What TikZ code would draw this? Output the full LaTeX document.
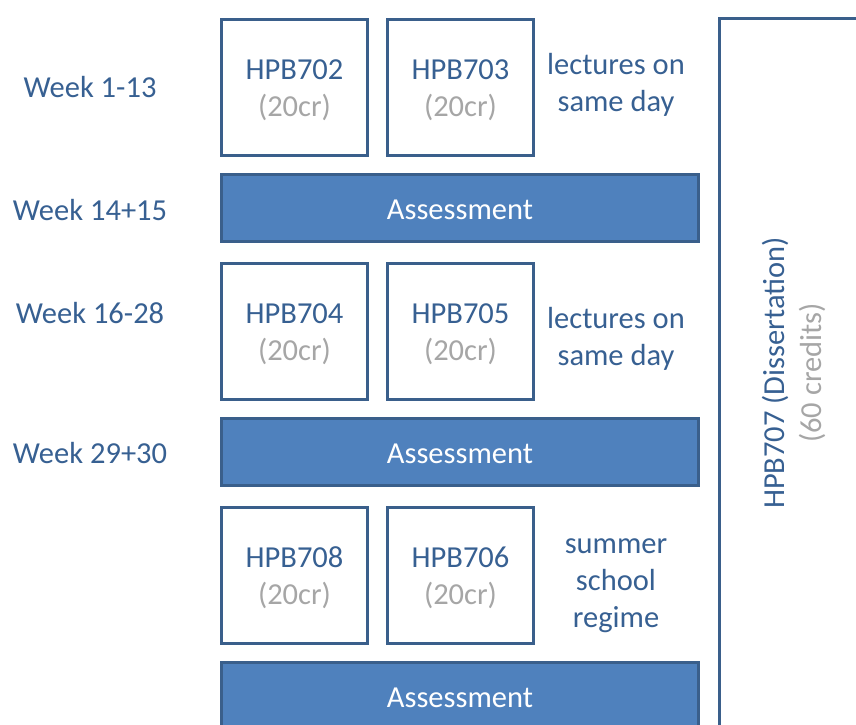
\documentclass[tikz,border=0pt]{standalone}
\usepackage{fontspec}
\setmainfont{Carlito}
\usetikzlibrary{positioning}

\definecolor{boxline}{HTML}{3A5F8B}
\definecolor{boxfill}{HTML}{4F81BD}
\definecolor{txtblue}{HTML}{376092}
\definecolor{txtgray}{HTML}{A6A6A6}

\newcommand{\cred}[1]{\textcolor{txtgray}{#1}}

\begin{document}
\begin{tikzpicture}
    [x=1pt, y=-1pt,
     every node/.style={align=center, text=txtblue, font=\fontsize{30.5}{37}\selectfont},
     course/.style={draw=boxline, line width=3pt, fill=white, minimum width=146pt, minimum height=136pt, inner sep=0pt},
     assess/.style={draw=boxline, line width=3pt, fill=boxfill, text=white, minimum width=477pt, minimum height=67pt, inner sep=0pt, text height=24pt},
    ]
    \useasboundingbox (0,0) rectangle (856,724);

    % dissertation runs alongside all rows
    \node (hpb707) [draw=boxline, line width=3pt, minimum width=200pt, minimum height=800pt, anchor=north west] at (717.5,17) {};
    \node (diss) [rotate=90] at (794,373) {
        HPB707 (Dissertation)\\
        \cred{(60 credits)}
    };

    % first block
    \node (hpb702) [course] at (294.5,87) {\rule{0pt}{26pt}HPB702\\\cred{(20cr)}};
    \node (hpb703) [course, right=17pt of hpb702] {\rule{0pt}{26pt}HPB703\\\cred{(20cr)}};
    \node (assess1) [assess, anchor=north west] at ([yshift=-16pt]hpb702.south west) {Assessment};

    % second block
    \node (hpb704) [course, anchor=north west] at ([yshift=-19pt]assess1.south west) {\rule{0pt}{26pt}HPB704\\\cred{(20cr)}};
    \node (hpb705) [course, right=17pt of hpb704] {\rule{0pt}{26pt}HPB705\\\cred{(20cr)}};
    \node (assess2) [assess, anchor=north west] at ([yshift=-16pt]hpb704.south west) {Assessment};

    % summer block
    \node (hpb708) [course, anchor=north west] at ([yshift=-19pt]assess2.south west) {\rule{0pt}{26pt}HPB708\\\cred{(20cr)}};
    \node (hpb706) [course, right=17pt of hpb708] {\rule{0pt}{26pt}HPB706\\\cred{(20cr)}};
    \node (assess3) [assess, anchor=north west] at ([yshift=-16pt]hpb708.south west) {Assessment};

    % notes beside the modules
    \node (note1) at (616,85) {lectures on\\same day};
    \node (note2) at (616,339) {lectures on\\same day};
    \node (note3) at (616,586) {summer\\school\\regime};

    % weeks
    \node (wk1) at (90,|-hpb702) {Week 1-13};
    \node (wk2) at (90,210) {Week 14+15};
    \node (wk3) at (90,313) {Week 16-28};
    \node (wk4) at (90,453) {Week 29+30};

\end{tikzpicture}
\end{document}
